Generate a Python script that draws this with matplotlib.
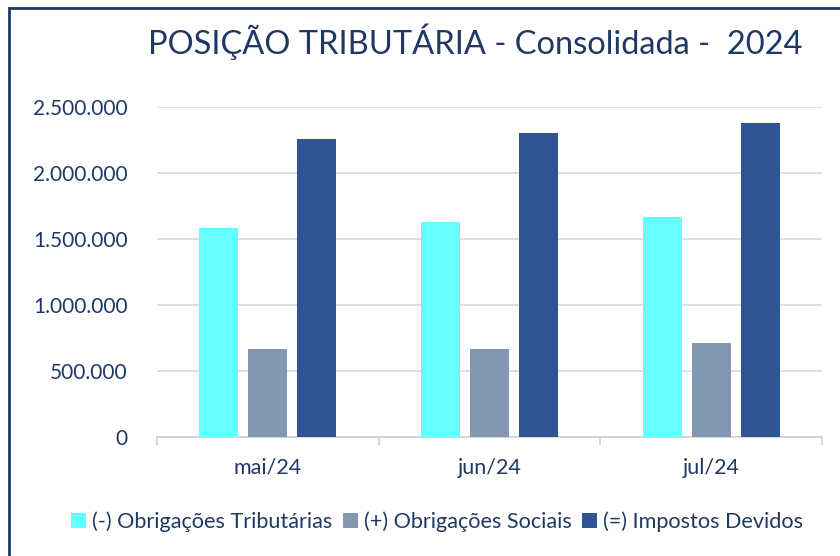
import matplotlib

matplotlib.use("Agg")
import matplotlib.pyplot as plt
import numpy as np
from matplotlib.patches import Rectangle
from matplotlib.ticker import FuncFormatter

plt.rcParams["font.family"] = ["Lato", "DejaVu Sans"]

months = ["mai/24", "jun/24", "jul/24"]
series = ["(-) Obrigações Tributárias", "(+) Obrigações Sociais", "(=) Impostos Devidos"]
tributarias = [1583000, 1629000, 1667000]
sociais = [667000, 670000, 712000]
devidos = [2258000, 2303000, 2379000]
colors = ["#66FFFF", "#8497B0", "#2F5597"]
TEXT = "#1F3864"

W, H = 840, 556
fig = plt.figure(figsize=(W / 100, H / 100), dpi=100)
ax = fig.add_axes([157 / W, 1 - 437 / H, (822 - 157) / W, (437 - 107) / H])

x = np.arange(len(months))
bw, gap = 0.176, 0.045
for i, (vals, name) in enumerate(zip([tributarias, sociais, devidos], series)):
    off = (i - 1) * (bw + gap)
    ax.bar(x + off, vals, width=bw, color=colors[i], label=name, zorder=3)

ax.set_xlim(-0.5, len(months) - 0.5)
ax.set_ylim(0, 2500000)
ax.set_yticks(np.arange(0, 2500001, 500000))
ax.yaxis.set_major_formatter(FuncFormatter(lambda v, _: f"{int(v):,}".replace(",", ".")))
ax.grid(axis="y", color="#D9D9D9", lw=1.2, zorder=0)

for s in ["top", "right", "left"]:
    ax.spines[s].set_visible(False)
ax.spines["bottom"].set_color("#D0D0D0")
ax.spines["bottom"].set_linewidth(1.2)

ax.set_xticks(x)
ax.set_xticklabels(months)
ax.set_xticks(np.arange(-0.5, len(months), 1), minor=True)
ax.tick_params(axis="x", which="major", length=0, pad=15, labelsize=15.5, labelcolor=TEXT)
ax.tick_params(axis="x", which="minor", length=6, color="#D0D0D0", width=1.2)
ax.tick_params(axis="y", length=0, pad=21, labelsize=15, labelcolor=TEXT)

fig.text(475 / W, 1 - 42 / H, "POSIÇÃO TRIBUTÁRIA - Consolidada -  2024",
         ha="center", va="center", fontsize=23.5, color=TEXT)

fig.legend(loc="center", bbox_to_anchor=(437 / W, 1 - 522 / H), ncol=3, frameon=False,
           fontsize=15.6, labelcolor=TEXT, handlelength=0.7, handleheight=0.7,
           handletextpad=0.25, columnspacing=0.5)

fig.patches.append(Rectangle((9 / W, -0.1), 1.2, 1 - 8 / H + 0.1, transform=fig.transFigure,
                             fill=False, edgecolor=TEXT, lw=2))

fig.savefig("out.png", dpi=100)
